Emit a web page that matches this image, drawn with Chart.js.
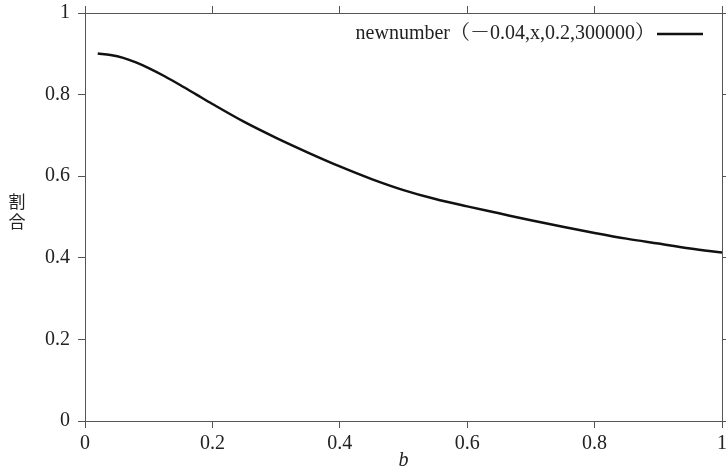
<!DOCTYPE html>
<html>
<head>
<meta charset="utf-8">
<script src="https://cdn.jsdelivr.net/npm/chart.js@4"></script>
<style>
  html, body { margin: 0; padding: 0; background: #fff; }
  #wrap { width: 726px; height: 470px; }
</style>
</head>
<body>
<div id="wrap"><canvas id="ratioChart" width="726" height="470"></canvas></div>
<script>
// values
var bValues = [0.02, 0.04, 0.06, 0.08, 0.10, 0.125, 0.15, 0.175, 0.20, 0.25, 0.30, 0.35, 0.40,
    0.45, 0.50, 0.55, 0.60, 0.65, 0.70, 0.75, 0.80, 0.85, 0.90, 0.95, 1.00];
var ratioValues = [0.901, 0.897, 0.890, 0.879, 0.865, 0.845, 0.823, 0.800, 0.777, 0.733, 0.694, 0.658, 0.624,
    0.593, 0.566, 0.544, 0.526, 0.509, 0.492, 0.476, 0.461, 0.447, 0.435, 0.423, 0.413];
var xTicks = [0, 0.2, 0.4, 0.6, 0.8, 1];
var yTicks = [0, 0.2, 0.4, 0.6, 0.8, 1];
var tickLabels = ['0', '0.2', '0.4', '0.6', '0.8', '1'];
var seriesLabel = 'newnumber（－0.04,x,0.2,300000）';
var xTitle = 'b';
var yTitle = ['割', '合'];

var serif = "'Liberation Serif', 'Noto Serif CJK JP', 'Noto Sans CJK JP', serif";
var axisColor = '#555';

function fixTicks(list) {
    return function (scale) {
        scale.ticks = list.map(function (v) { return { value: v }; });
    };
}

// legend (text then line sample) and axis titles
var decorations = {
    id: 'decorations',
    afterDraw: function (chart) {
        var ctx = chart.ctx;
        var area = chart.chartArea;
        ctx.save();
        ctx.fillStyle = '#222';
        ctx.font = '20px ' + serif;
        ctx.textAlign = 'right';
        ctx.textBaseline = 'middle';
        ctx.fillText(seriesLabel, area.right - 67, area.top + 21);
        ctx.strokeStyle = '#111';
        ctx.lineWidth = 2.5;
        ctx.beginPath();
        ctx.moveTo(area.right - 65, area.top + 21);
        ctx.lineTo(area.right - 19, area.top + 21);
        ctx.stroke();

        ctx.textAlign = 'center';
        ctx.font = 'italic 20px ' + serif;
        ctx.fillText(xTitle, (area.left + area.right) / 2, 461);

        ctx.font = "17px 'Noto Sans CJK JP', sans-serif";
        ctx.fillText(yTitle[0], 17, 202);
        ctx.fillText(yTitle[1], 17, 222);
        ctx.restore();
    }
};

var mainAxis = function (pos, ticks, size) {
    return {
        type: 'linear',
        position: pos,
        min: 0,
        max: 1,
        afterBuildTicks: fixTicks(ticks),
        afterFit: function (s) {
            if (pos === 'left' || pos === 'right') s.width = size; else s.height = size;
            s.paddingLeft = s.paddingRight = s.paddingTop = s.paddingBottom = 0;
        },
        border: { display: true, color: axisColor, width: 1 },
        grid: { drawOnChartArea: false, color: axisColor, tickLength: 7, tickWidth: 1 },
        ticks: {
            color: '#222',
            font: { family: serif, size: 20 },
            padding: pos === 'left' ? 8 : 4,
            maxRotation: 0,
            autoSkip: false,
            callback: function (v, i) { return tickLabels[i]; }
        }
    };
};

var mirrorAxis = function (pos, ticks, size) {
    var a = mainAxis(pos, ticks, size);
    a.ticks.display = false;
    return a;
};

var chart = new Chart(document.getElementById('ratioChart').getContext('2d'), {
    type: 'scatter',
    data: {
        datasets: [
            {
                label: seriesLabel,
                data: bValues.map(function (b, i) { return { x: b, y: ratioValues[i] }; }),
                showLine: true,
                borderColor: '#111',
                borderWidth: 2.5,
                pointRadius: 0,
                cubicInterpolationMode: 'monotone',
                fill: false
            }
        ]
    },
    options: {
        responsive: false,
        animation: false,
        layout: { padding: 0 },
        plugins: {
            legend: { display: false },
            tooltip: { enabled: false }
        },
        scales: {
            x: mainAxis('bottom', xTicks, 49),
            y: mainAxis('left', yTicks, 85),
            x2: mirrorAxis('top', xTicks, 13),
            y2: mirrorAxis('right', yTicks, 4)
        }
    },
    plugins: [decorations]
});
</script>
</body>
</html>
